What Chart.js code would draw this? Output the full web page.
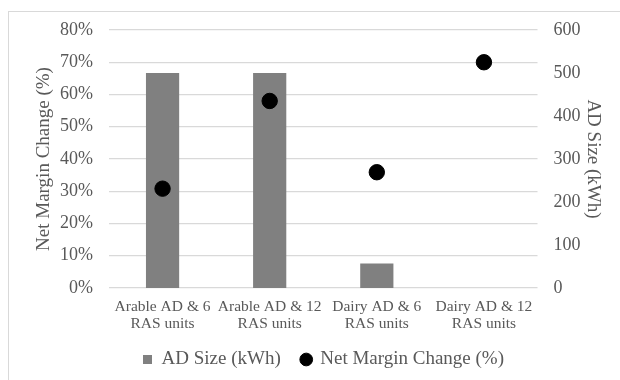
<!DOCTYPE html>
<html>
<head>
<meta charset="utf-8">
<script src="https://cdn.jsdelivr.net/npm/chart.js@4.4.1/dist/chart.umd.min.js"></script>
<style>
  html, body { margin: 0; padding: 0; background: #fff; }
  body { width: 620px; height: 380px; overflow: hidden; position: relative; }
  #frame { position: absolute; left: 8px; top: 11px; width: 640px; height: 400px; border: 1px solid #d9d9d9; }
  #wrap { position: absolute; left: 9px; top: 12px; width: 611px; height: 368px; }
</style>
</head>
<body>
<div id="frame"></div>
<div id="wrap"><canvas id="chart"></canvas></div>
<script>
// values
const categories = [
    ["Arable AD & 6", "RAS units"],
    ["Arable AD & 12", "RAS units"],
    ["Dairy AD & 6", "RAS units"],
    ["Dairy AD & 12", "RAS units"]
];
const adSize = [500, 500, 57, 0];               // kWh, right axis
const netMarginChange = [30.8, 58, 35.9, 70];   // %, left axis

const textColor = "#595959";
const gridColor = "#d9d9d9";
const serif = "'Liberation Serif', 'Times New Roman', serif";

// fixed axis widths, and no extra top/bottom room for the tick labels
function fixWidth(w) {
    return (s) => {
        s.width = w;
        s.paddingTop = 0;
        s.paddingBottom = 0;
    };
}

new Chart(document.getElementById("chart"), {
    data: {
        labels: categories,
        datasets: [{
            type: "bar",
            label: "AD Size (kWh)",
            data: adSize,
            yAxisID: "y1",
            backgroundColor: "#808080",
            pointStyle: "rect",
            barPercentage: 0.31,
            categoryPercentage: 1,
            order: 1
        }, {
            type: "line",
            label: "Net Margin Change (%)",
            data: netMarginChange,
            yAxisID: "y",
            showLine: false,
            pointStyle: "circle",
            pointRadius: 7.7,
            pointBackgroundColor: "#000",
            pointBorderColor: "#000",
            backgroundColor: "#000",
            borderColor: "#000",
            order: 0
        }]
    },
    options: {
        responsive: true,
        maintainAspectRatio: false,
        animation: false,
        layout: { padding: { top: 18, left: 18, right: 0, bottom: 1 } },
        plugins: {
            tooltip: { enabled: false },
            legend: {
                position: "bottom",
                labels: {
                    usePointStyle: true,
                    boxHeight: 9,
                    boxWidth: 9,
                    padding: 21,
                    color: textColor,
                    font: { family: serif, size: 19 },
                    sort: (a, b) => a.datasetIndex - b.datasetIndex
                }
            }
        },
        scales: {
            x: {
                grid: { display: false, drawTicks: false },
                border: { display: false },
                ticks: {
                    color: textColor,
                    padding: 10,
                    maxRotation: 0,
                    font: { family: serif, size: 15.5, lineHeight: 1.1 }
                },
                afterFit: (s) => { s.height = 41; }
            },
            y: {
                position: "left",
                min: 0,
                max: 80,
                grid: { color: gridColor, lineWidth: 1.2, drawTicks: false },
                border: { display: false },
                ticks: {
                    stepSize: 10,
                    padding: 16,
                    color: textColor,
                    font: { family: serif, size: 18 },
                    callback: (v) => v + "%"
                },
                title: {
                    display: true,
                    text: "Net Margin Change (%)",
                    color: textColor,
                    font: { family: serif, size: 19 },
                    padding: { top: 5.6, bottom: 0 }
                },
                afterFit: fixWidth(82)
            },
            y1: {
                position: "right",
                min: 0,
                max: 600,
                grid: { display: false, drawTicks: false },
                border: { display: false },
                ticks: {
                    stepSize: 100,
                    padding: 16,
                    color: textColor,
                    font: { family: serif, size: 18 }
                },
                title: {
                    display: true,
                    text: "AD Size (kWh)",
                    color: textColor,
                    font: { family: serif, size: 19 },
                    padding: { top: 15.6, bottom: 0 }
                },
                afterFit: fixWidth(82.5)
            }
        }
    }
});
</script>
</body>
</html>
